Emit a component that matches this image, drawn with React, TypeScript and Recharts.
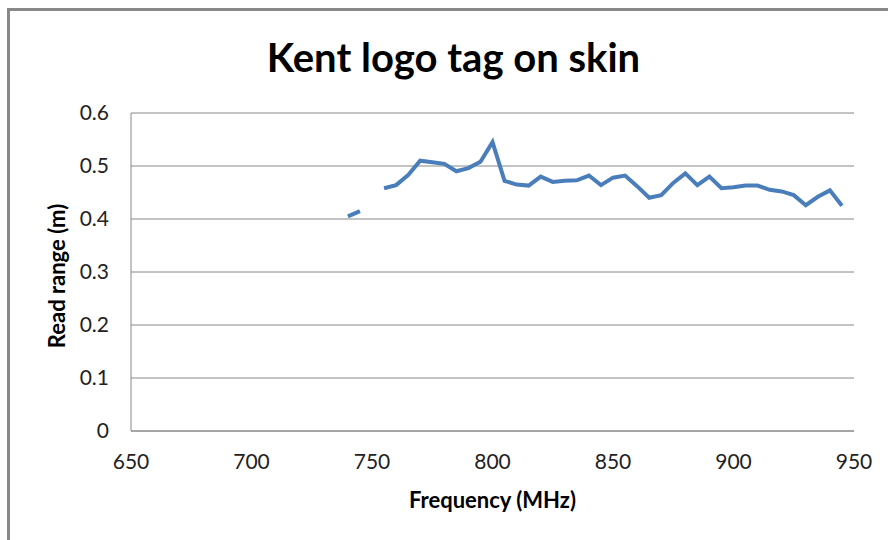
import { LineChart, Line, XAxis, YAxis, CartesianGrid } from 'recharts'

const font = 'Lato, "Open Sans", sans-serif'

const frequencies = [
  740, 745, 750, 755, 760, 765, 770, 775, 780, 785, 790, 795, 800,
  805, 810, 815, 820, 825, 830, 835, 840, 845, 850, 855, 860, 865,
  870, 875, 880, 885, 890, 895, 900, 905, 910, 915, 920, 925, 930,
  935, 940, 945,
]
const readRange: (number | null)[] = [
  0.405, 0.415, null, 0.458, 0.464, 0.483, 0.51, 0.507, 0.504, 0.49, 0.496, 0.508, 0.545,
  0.472, 0.465, 0.463, 0.48, 0.47, 0.472, 0.473, 0.482, 0.464, 0.478, 0.482, 0.462, 0.44,
  0.445, 0.468, 0.486, 0.464, 0.48, 0.458, 0.46, 0.463, 0.463, 0.455, 0.452, 0.445, 0.426,
  0.442, 0.454, 0.425,
]
const xTicks = [650, 700, 750, 800, 850, 900, 950]
const yTicks = [0, 0.1, 0.2, 0.3, 0.4, 0.5, 0.6]

const data = frequencies.map((f, i) => ({ freq: f, range: readRange[i] }))

export default function App() {
  return (
    <div style={{ position: 'absolute', left: 0, top: 0, width: 888, height: 540, overflow: 'hidden', background: '#fff' }}>
      <div style={{ position: 'absolute', left: 7, top: 8, width: 1000, height: 1000, border: '3px solid #888', boxSizing: 'border-box' }} />
      <div style={{ position: 'absolute', left: 0, width: 907, top: 33, lineHeight: '48px', textAlign: 'center', fontFamily: font, fontWeight: 700, fontSize: 40, color: '#000' }}>
        Kent logo tag on skin
      </div>
      <div style={{ position: 'absolute', left: 0, width: 985, top: 487, lineHeight: '26px', textAlign: 'center', fontFamily: font, fontWeight: 700, fontSize: 22, color: '#000' }}>
        Frequency (MHz)
      </div>
      <div style={{ position: 'absolute', left: 57, top: 276, lineHeight: '26px', transform: 'translate(-50%, -50%) rotate(-90deg)', whiteSpace: 'nowrap', fontFamily: font, fontWeight: 700, fontSize: 22, color: '#000' }}>
        Read range (m)
      </div>
      <div style={{ position: 'absolute', left: 0, top: 0 }}>
        <LineChart width={888} height={540} data={data} margin={{ top: 113, right: 34, left: 0, bottom: 0 }}>
          <CartesianGrid vertical={false} stroke="#888" strokeWidth={1} />
          <XAxis
            dataKey="freq"
            type="number"
            domain={[650, 950]}
            ticks={xTicks}
            height={109}
            tickLine={false}
            tickSize={0}
            tickMargin={23}
            axisLine={{ stroke: '#888' }}
            tick={{ fill: '#222', fontSize: 21, fontFamily: font }}
          />
          <YAxis
            type="number"
            domain={[0, 0.6]}
            ticks={yTicks}
            width={131}
            tickLine={false}
            tickSize={0}
            tickMargin={22}
            axisLine={{ stroke: '#888' }}
            tick={{ fill: '#222', fontSize: 21, fontFamily: font }}
          />
          <Line
            dataKey="range"
            type="linear"
            stroke="#4a7ebb"
            strokeWidth={4}
            dot={false}
            connectNulls={false}
            isAnimationActive={false}
          />
        </LineChart>
      </div>
    </div>
  )
}
